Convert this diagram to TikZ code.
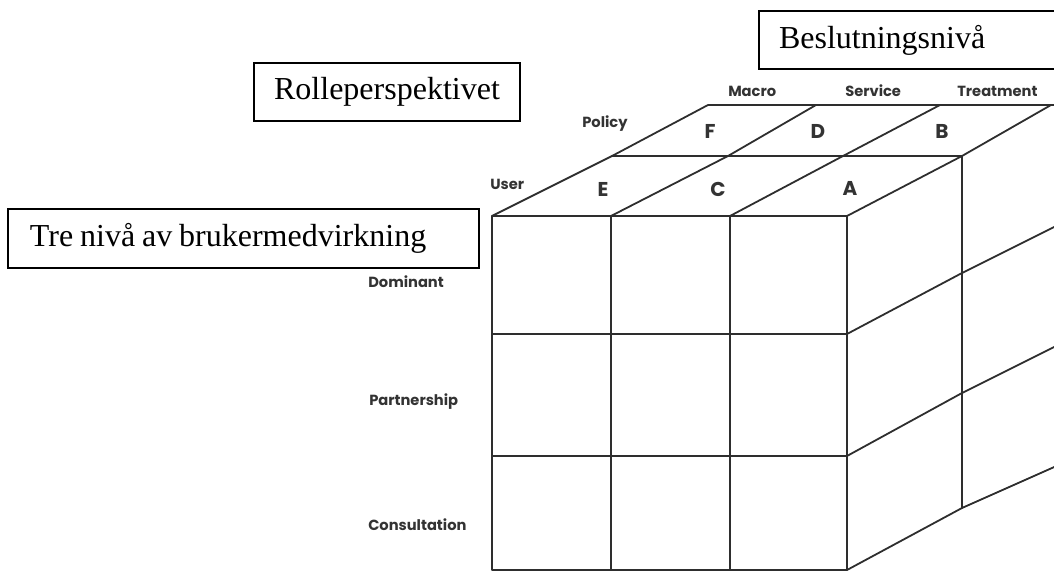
\documentclass[tikz,border=0pt]{standalone}
\usepackage{fontspec}
\setmainfont{Liberation Serif}
\newfontfamily\lblfont{Poppins}
\begin{document}
\begin{tikzpicture}[x=0.75pt,y=-0.75pt,
  cubeline/.style={draw=black!82, line width=1.35pt, line join=round, line cap=round},
  txtbox/.style={draw=black, line width=1.5pt, font=\fontsize{24}{28}\selectfont, inner ysep=0pt, anchor=north west},
  axlbl/.style={font=\lblfont\bfseries\fontsize{11}{12}\selectfont, text=black!80, inner sep=0pt, anchor=west},
  letter/.style={font=\lblfont\bfseries\fontsize{15}{16}\selectfont, text=black!80, inner sep=0pt}]
\useasboundingbox (0,0) rectangle (1054,571);
\clip (0,0) rectangle (1054,571);

% front face corners / grid points
\coordinate (f00) at (492,216); \coordinate (f10) at (611,216);
\coordinate (f20) at (730,216); \coordinate (f30) at (847,216);
\coordinate (f03) at (492,570); \coordinate (f13) at (611,570);
\coordinate (f23) at (730,570); \coordinate (f33) at (847,570);
\coordinate (f01) at (492,334); \coordinate (f31) at (847,334);
\coordinate (f02) at (492,456); \coordinate (f32) at (847,456);
% middle depth line on top face
\coordinate (m0) at (612,156); \coordinate (m1) at (728,156);
\coordinate (m2) at (843,156); \coordinate (m3) at (962,156);
% back edge of top face
\coordinate (b0) at (708,105); \coordinate (b1) at (816,105);
\coordinate (b2) at (940,105); \coordinate (b3) at (1051,105);
\coordinate (bend) at (1070,105);
% right face
\coordinate (r1) at (962,273); \coordinate (r2) at (962,393); \coordinate (r3) at (962,508);
\coordinate (s1) at (1070,219); \coordinate (s2) at (1070,339); \coordinate (s3) at (1070,460);

% front face
\draw[cubeline] (f00) rectangle (f33);
\draw[cubeline] (f10) -- (f13);
\draw[cubeline] (f20) -- (f23);
\draw[cubeline] (f01) -- (f31);
\draw[cubeline] (f02) -- (f32);
% top face
\draw[cubeline] (f00) -- (m0) -- (b0) -- (bend);
\draw[cubeline] (f10) -- (m1) -- (b1);
\draw[cubeline] (f20) -- (m2) -- (b2);
\draw[cubeline] (f30) -- (m3) -- (b3);
\draw[cubeline] (m0) -- (m3);
% right face
\draw[cubeline] (m3) -- (r3);
\draw[cubeline] (f31) -- (r1) -- (s1);
\draw[cubeline] (f32) -- (r2) -- (s2);
\draw[cubeline] (f33) -- (r3) -- (s3);

% letters on top face
\node[letter] (E) at (603,189) {E};
\node[letter] (C) at (718,189) {C};
\node[letter] (A) at (850,188) {A};
\node[letter] (F) at (710,131) {F};
\node[letter] (D) at (818,131) {D};
\node[letter] (B) at (942,131) {B};

% axis labels
\node[axlbl] (user) at (490,184) {User};
\node[axlbl] (policy) at (582,124) {Policy};
\node[axlbl] (macro) at (728,91) {Macro};
\node[axlbl] (service) at (845,91) {Service};
\node[axlbl] (treat) at (957,91) {Treatment};
\node[axlbl] (dom) at (368,282) {Dominant};
\node[axlbl] (part) at (369,402) {Partnership};
\node[axlbl] (cons) at (368,525) {Consultation};

% text boxes
\node[txtbox, minimum width=199.5pt, minimum height=43.5pt, inner xsep=0pt] (rolle) at (253,62) {Rolleperspektivet};
\node[txtbox, minimum height=44.25pt, inner xsep=16.5pt, text width=320.25pt, align=left] (tre) at (7,208) {\spaceskip=0.215em\relax Tre nivå av brukermedvirkning};
\node[txtbox, minimum height=43.5pt, inner xsep=15pt, text width=200pt, align=left] (besl) at (758,10) {Beslutningsnivå};
\end{tikzpicture}
\end{document}
